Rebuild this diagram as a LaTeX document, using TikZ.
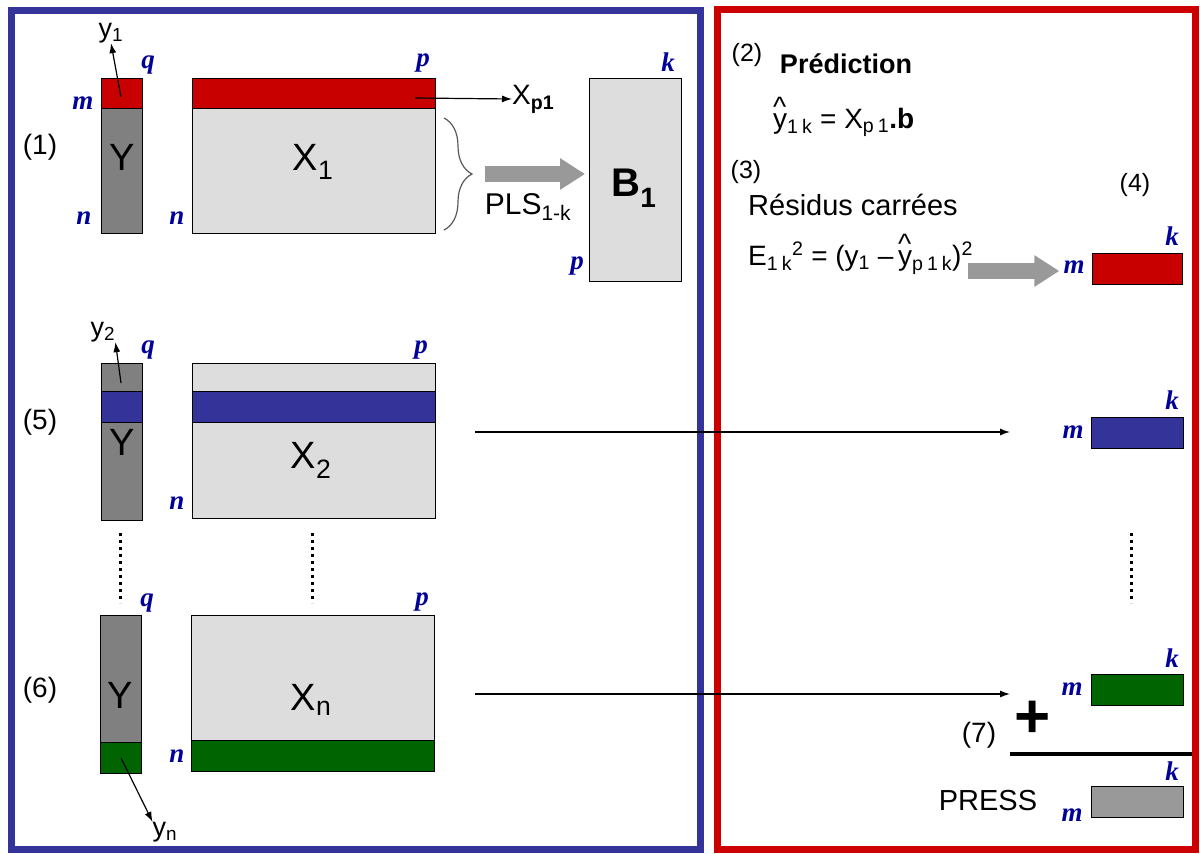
\documentclass[tikz,border=0pt]{standalone}
\usepackage{fontspec}
\setmainfont{Liberation Sans}
\newfontfamily\dimfont{Liberation Serif}
\usetikzlibrary{positioning, arrows.meta, decorations.pathreplacing}
\definecolor{FrameBlue}{RGB}{51,51,153}
\definecolor{FrameRed}{RGB}{204,0,0}
\definecolor{BandRed}{RGB}{200,0,0}
\definecolor{BandBlue}{RGB}{51,51,153}
\definecolor{BandGreen}{RGB}{0,100,0}
\definecolor{LightGrey}{RGB}{221,221,221}
\definecolor{DarkGrey}{RGB}{128,128,128}
\definecolor{ArrowGrey}{RGB}{153,153,153}
\definecolor{DimBlue}{RGB}{0,0,153}
\newcommand{\setfs}[1]{\fontsize{#1}{#1}\selectfont}
\newcommand{\hy}{\makebox[0pt][l]{\raisebox{0.42em}{\textasciicircum}}y}
\newcommand{\sk}{\kern4pt}
\tikzset{
  mat/.style={draw, line width=1.3pt, inner sep=0pt, anchor=north west},
  dimlbl/.style={text=DimBlue, font=\dimfont\bfseries\itshape\setfs{27}, inner sep=0pt},
  num/.style={font=\setfs{28}, inner sep=0pt},
  txt/.style={inner sep=0pt},
  bigarrow/.style={line width=16pt, ArrowGrey, -{Triangle[length=25pt,width=30pt]}},
  thinarrow/.style={line width=1.2pt, -{Latex[length=10pt,width=7pt]}},
  vdots/.style={line width=3pt, dash pattern=on 3pt off 4pt}
}

\begin{document}
\begin{tikzpicture}[x=1pt, y=-1pt]
\useasboundingbox (0,0) rectangle (1200,854);
% frames
\draw[FrameBlue, line width=7pt] (11,10) rectangle (700,849);
\draw[FrameRed, line width=7pt] (717,9) rectangle (1195,849);

% row 1
\node[mat, fill=DarkGrey, minimum width=41pt, minimum height=155pt] (Y1) at (101,78) {};
\node[mat, fill=BandRed, minimum width=41pt, minimum height=30pt] (Y1band) at (101,78) {};
\node[mat, fill=LightGrey, minimum width=243pt, minimum height=155pt] (X1) at (192,78) {};
\node[mat, fill=BandRed, minimum width=243pt, minimum height=30pt] (X1band) at (192,78) {};
\node[mat, fill=LightGrey, minimum width=92pt, minimum height=203pt] (B1) at (589,78) {};
\node[txt, font=\setfs{38}] (Ylbl1) at (122,157) {Y};
\node[txt, font=\setfs{38}] (Xlbl1) at (313,162) {X\textsubscript{1}};
\node[txt, font=\bfseries\setfs{40}] (Blbl1) at (634,188) {B\textsubscript{1}};
\node[num] (n1) at (40,147) {(1)};
\node[txt, font=\setfs{27}] (y1) at (111,33) {y\textsubscript{1}};
\node[dimlbl] (q1) at (148,65) {q};
\node[dimlbl] (m1) at (83,103) {m};
\node[dimlbl] (nY1) at (84,218) {n};
\node[dimlbl] (nX1) at (177,218) {n};
\node[dimlbl] (p1) at (423,63) {p};
\node[dimlbl] (kB) at (668,62) {k};
\node[dimlbl] (pB) at (577,266) {p};
\node[txt, font=\setfs{28}, anchor=west] (xp1) at (512,99) {X\textsubscript{\bfseries p1}};
\node[txt, font=\setfs{30}] (pls) at (528,207) {PLS\textsubscript{1-k}};
\coordinate (ys1) at (121,97);
\draw[thinarrow] (ys1) -- (y1.south);
\coordinate (xs1) at (415,98);
\draw[thinarrow] (xs1) -- (xp1.west);
\draw[black!65, line width=1.2pt, decorate, decoration={brace, amplitude=28pt}] (444,118) -- (444,230);
\coordinate (brtip) at (473,174);
\draw[bigarrow, shorten <=12pt, shorten >=4pt] (brtip) -- (brtip -| B1.west);

% row 2
\node[mat, fill=DarkGrey, minimum width=41pt, minimum height=157pt] (Y2) at (101,363) {};
\node[mat, fill=BandBlue, minimum width=41pt, minimum height=31pt] (Y2band) at (101,391) {};
\node[mat, fill=LightGrey, minimum width=243pt, minimum height=155pt] (X2) at (192,363) {};
\node[mat, fill=BandBlue, minimum width=243pt, minimum height=31pt] (X2band) at (192,391) {};
\node[txt, font=\setfs{38}] (Ylbl2) at (122,442) {Y};
\node[txt, font=\setfs{38}] (Xlbl2) at (311,460) {X\textsubscript{2}};
\node[num] (n5) at (40,422) {(5)};
\node[txt, font=\setfs{27}] (y2) at (103,332) {y\textsubscript{2}};
\node[dimlbl] (q2) at (148,350) {q};
\node[dimlbl] (p2) at (421,350) {p};
\node[dimlbl] (nX2) at (177,503) {n};
\coordinate (ys2) at (121,383);
\draw[thinarrow] (ys2) -- (y2.south east);
\coordinate (a2) at (475,432);
\coordinate (b2) at (1010,432);
\draw[thinarrow] (a2) -- (b2);

% dots
\coordinate (dY) at (120,533);
\coordinate (dX) at (312,533);
\coordinate (dR) at (1131,533);
\draw[vdots] (dY) -- ++(0,70);
\draw[vdots] (dX) -- ++(0,70);
\draw[vdots] (dR) -- ++(0,70);

% row 3
\node[mat, fill=DarkGrey, minimum width=41pt, minimum height=158pt] (Y3) at (100,615) {};
\node[mat, fill=BandGreen, minimum width=41pt, minimum height=31pt] (Y3band) at (100,742) {};
\node[mat, fill=LightGrey, minimum width=243pt, minimum height=156pt] (X3) at (191,615) {};
\node[mat, fill=BandGreen, minimum width=243pt, minimum height=31pt] (X3band) at (191,740) {};
\node[txt, font=\setfs{38}] (Ylbl3) at (120,695) {Y};
\node[txt, font=\setfs{38}] (Xlbl3) at (311,700) {X\textsubscript{n}};
\node[num] (n6) at (40,690) {(6)};
\node[txt, font=\setfs{27}] (yn) at (165,832) {y\textsubscript{n}};
\node[dimlbl] (q3) at (147,603) {q};
\node[dimlbl] (p3) at (422,602) {p};
\node[dimlbl] (nX3) at (177,756) {n};
\draw[thinarrow] (Y3band.center) -- (yn.north west);
\coordinate (a3) at (475,694);
\coordinate (b3) at (1010,694);
\draw[thinarrow] (a3) -- (b3);

% right panel
\node[txt, font=\setfs{25}] (n2) at (747,55) {(2)};
\node[txt, font=\bfseries\setfs{27}] (pred) at (846,64) {Prédiction};
\node[txt, font=\setfs{28}, anchor=base west] (f1) at (773,128) {\hy\textsubscript{1\sk k} = X\textsubscript{p\sk 1}\textbf{.b}};
\node[txt, font=\setfs{25}] (n3) at (746,172) {(3)};
\node[txt, font=\setfs{29}, anchor=base west] (res) at (748,215) {Résidus carrées};
\node[txt, font=\setfs{25}] (n4) at (1135,185) {(4)};
\node[txt, font=\setfs{28}, anchor=base west] (f2) at (748,265) {E\textsubscript{1\sk k}\textsuperscript{2} = (y\textsubscript{1} –\,\hy\textsubscript{p\sk 1\sk k})\textsuperscript{2}};

\node[mat, fill=BandRed, minimum width=90pt, minimum height=31pt] (R1) at (1092,253) {};
\node[mat, fill=BandBlue, minimum width=92pt, minimum height=31pt] (R2) at (1091,417) {};
\node[mat, fill=BandGreen, minimum width=92pt, minimum height=31pt] (R3) at (1091,674) {};
\node[mat, fill=ArrowGrey, minimum width=92pt, minimum height=31pt] (R4) at (1091,786) {};
\node[dimlbl] (kR1) at (1172,236) {k};
\node[dimlbl] (mR1) at (1074,267) {m};
\node[dimlbl] (kR2) at (1172,400) {k};
\node[dimlbl] (mR2) at (1073,432) {m};
\node[dimlbl] (kR3) at (1172,658) {k};
\node[dimlbl] (mR3) at (1072,689) {m};
\node[dimlbl] (kR4) at (1172,771) {k};
\node[dimlbl] (mR4) at (1072,815) {m};
\coordinate (ea) at (968,271);
\draw[bigarrow, shorten >=4pt] (ea) -- (ea -| mR1.west);

\node[txt, font=\bfseries\setfs{62}] (plus) at (1033,719) {+};
\node[txt, font=\setfs{28}] (n7) at (979,735) {(7)};
\coordinate (sepL) at (1010,754);
\coordinate (sepR) at (1192,754);
\draw[line width=4pt] (sepL) -- (sepR);
\node[txt, font=\setfs{29}] (press) at (988,801) {PRESS};
\end{tikzpicture}
\end{document}
